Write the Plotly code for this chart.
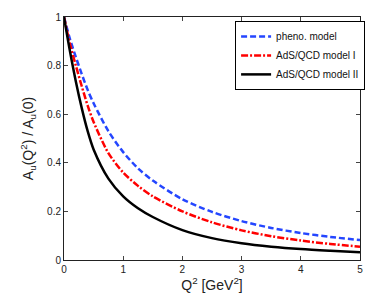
import plotly.graph_objects as go

q2 = [0, 0.1, 0.2, 0.3, 0.4, 0.5, 0.75, 1.0, 1.25, 1.5, 2.0, 2.5, 3.0, 3.5, 4.0, 4.5, 5.0]
pheno = [1.0, 0.91, 0.835, 0.765, 0.70, 0.645, 0.53, 0.444, 0.377, 0.327, 0.25, 0.198, 0.160, 0.132, 0.111, 0.095, 0.082]
ads1 = [1.0, 0.89, 0.80, 0.715, 0.635, 0.568, 0.44, 0.36, 0.305, 0.262, 0.20, 0.155, 0.122, 0.098, 0.080, 0.066, 0.055]
ads2 = [1.0, 0.86, 0.735, 0.625, 0.53, 0.455, 0.335, 0.262, 0.213, 0.177, 0.123, 0.090, 0.069, 0.055, 0.045, 0.038, 0.032]
names = ["pheno. model", "AdS/QCD model I", "AdS/QCD model II"]
x_ticks = [0, 1, 2, 3, 4, 5]
y_ticks = [0, 0.2, 0.4, 0.6, 0.8, 1]
y_tick_labels = ["0", "0.2", "0.4", "0.6", "0.8", "1"]

fig = go.Figure()
styles = [("#2446ff", "6px,3px"), ("#ff0000", "7px,2px,2px,2px"), ("#000000", "solid")]
for name, ys, (col, dash) in zip(names, [pheno, ads1, ads2], styles):
    fig.add_trace(go.Scatter(x=q2, y=ys, mode="lines", name=name,
                             line=dict(color=col, dash=dash, width=2.5, shape="spline", smoothing=0.8)))

# page body adds an 8px offset; figure sized to fill the rest of the 382x300 window
fig.update_layout(
    width=374, height=292,
    margin=dict(l=56, r=22, t=9, b=40, autoexpand=False),
    paper_bgcolor="white", plot_bgcolor="white",
    font=dict(family="Liberation Sans, Arial, sans-serif", color="#222"),
    legend=dict(x=0.578, y=0.984, xanchor="left", yanchor="top",
                bgcolor="white", bordercolor="black", borderwidth=1,
                font=dict(size=10, color="#111"), tracegroupgap=4, itemwidth=30),
)
fig.update_xaxes(range=[0, 5], tickvals=x_ticks, ticks="inside", ticklen=4,
                 showline=True, linecolor="#222", linewidth=1, mirror="ticks",
                 showgrid=False, zeroline=False, tickfont=dict(size=10), automargin=False,
                 title=dict(text="Q<sup>2</sup> [GeV<sup>2</sup>]", font=dict(size=14), standoff=2))
fig.update_yaxes(range=[0, 1], tickvals=y_ticks, ticktext=y_tick_labels, ticks="inside", ticklen=4,
                 showline=True, linecolor="#222", linewidth=1, mirror="ticks",
                 showgrid=False, zeroline=False, tickfont=dict(size=10), automargin=False,
                 title=dict(text="A<sub>u</sub>(Q<sup>2</sup>) / A<sub>u</sub>(0)", font=dict(size=14), standoff=10))

fig.write_html("out.html")
